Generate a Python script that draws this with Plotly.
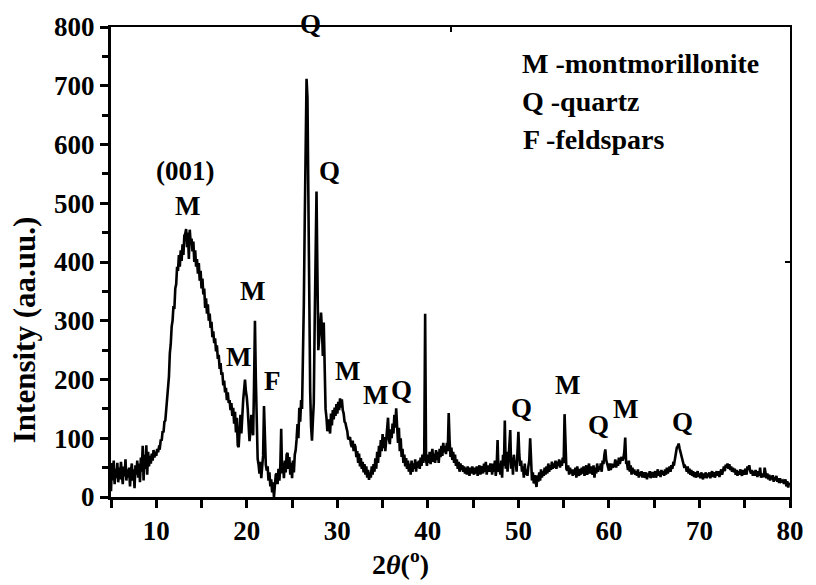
import plotly.graph_objects as go

# XRD pattern: 2theta from 5 to 80 deg, sampled every 0.1 deg (rows = one degree each)
two_theta_start = 5.0
two_theta_step = 0.1
intensity_rows = [
    [10, 58, 28, 62, 22, 48, 32, 58, 25, 50],          # 5.x
    [30, 60, 38, 22, 52, 35, 64, 28, 47, 33],          # 6.x
    [50, 18, 44, 57, 28, 47, 15, 54, 38, 62],          # 7.x
    [33, 57, 25, 67, 43, 87, 28, 72, 48, 88],          # 8.x
    [38, 77, 52, 70, 57, 74, 62, 80, 67, 77],          # 9.x
    [70, 82, 76, 85, 84, 98, 96, 112, 110, 128],       # 10.x
    [130, 150, 155, 190, 205, 245, 260, 290, 300, 325],  # 11.x
    [320, 355, 362, 392, 385, 412, 392, 420, 402, 430],  # 12.x
    [412, 445, 448, 456, 425, 450, 405, 455, 432, 440],  # 13.x
    [418, 435, 400, 420, 392, 405, 380, 398, 368, 385],  # 14.x
    [355, 372, 345, 355, 322, 338, 312, 328, 300, 312],  # 15.x
    [288, 298, 272, 282, 262, 270, 248, 258, 235, 242],  # 16.x
    [218, 228, 208, 212, 190, 198, 178, 186, 165, 178],  # 17.x
    [160, 165, 148, 160, 138, 152, 125, 145, 110, 135],  # 18.x
    [88, 85, 125, 140, 108, 152, 165, 182, 200, 180],    # 19.x
    [170, 150, 130, 95, 112, 140, 118, 105, 190, 300],   # 20.x
    [200, 90, 65, 55, 40, 60, 32, 52, 70, 155],          # 21.x
    [100, 55, 45, 52, 28, 42, 18, 30, 8, 25],            # 22.x
    [0, 15, 38, 40, 22, 48, 28, 52, 116, 40],            # 23.x
    [58, 32, 62, 42, 72, 75, 48, 68, 38, 58],            # 24.x
    [32, 62, 42, 72, 80, 98, 124, 100, 152, 128],        # 25.x
    [165, 150, 230, 330, 470, 600, 712, 680, 520, 300],  # 26.x
    [180, 120, 96, 130, 160, 300, 440, 520, 380, 250],   # 27.x
    [270, 300, 314, 285, 240, 297, 200, 150, 135, 112],  # 28.x
    [122, 132, 108, 142, 122, 148, 132, 152, 138, 158],  # 29.x
    [142, 162, 148, 168, 152, 166, 148, 142, 128, 126],  # 30.x
    [118, 112, 98, 100, 102, 90, 85, 96, 78, 90],        # 31.x
    [85, 68, 78, 58, 74, 52, 66, 48, 60, 42],            # 32.x
    [56, 38, 52, 33, 46, 29, 42, 33, 52, 38],            # 33.x
    [56, 43, 66, 48, 77, 58, 87, 68, 97, 78],            # 34.x
    [107, 83, 102, 78, 97, 110, 135, 98, 90, 115],       # 35.x
    [100, 125, 108, 140, 118, 151, 128, 92, 118, 78],    # 36.x
    [100, 68, 82, 58, 72, 52, 66, 48, 62, 43],           # 37.x
    [57, 38, 62, 43, 57, 48, 64, 43, 60, 50],            # 38.x
    [62, 48, 67, 53, 72, 58, 77, 312, 63, 53],           # 39.x
    [72, 58, 77, 56, 70, 82, 60, 74, 58, 80],            # 40.x
    [63, 77, 58, 82, 68, 87, 70, 92, 76, 87],            # 41.x
    [73, 92, 78, 143, 97, 68, 84, 63, 77, 58],           # 42.x
    [72, 53, 64, 48, 60, 43, 57, 46, 54, 43],            # 43.x
    [52, 40, 50, 38, 52, 43, 36, 50, 40, 52],            # 44.x
    [43, 38, 50, 40, 52, 36, 47, 54, 38, 50],            # 45.x
    [52, 40, 57, 43, 60, 38, 54, 46, 43, 57],            # 46.x
    [52, 38, 57, 43, 62, 36, 52, 97, 43, 57],            # 47.x
    [38, 62, 33, 72, 53, 130, 48, 77, 43, 62],           # 48.x
    [82, 114, 48, 67, 38, 72, 53, 62, 43, 77],           # 49.x
    [111, 72, 53, 62, 43, 52, 33, 57, 38, 47],           # 50.x
    [36, 52, 62, 100, 43, 28, 42, 23, 37, 28],           # 51.x
    [17, 37, 26, 42, 28, 47, 33, 44, 36, 50],            # 52.x
    [38, 52, 40, 57, 43, 54, 46, 60, 48, 57],            # 53.x
    [50, 62, 48, 60, 53, 64, 50, 62, 53, 67],            # 54.x
    [58, 141, 62, 48, 45, 54, 38, 50, 40, 47],           # 55.x
    [36, 47, 38, 50, 33, 52, 40, 36, 48, 38],            # 56.x
    [50, 40, 52, 36, 47, 54, 38, 50, 57, 40],            # 57.x
    [52, 43, 38, 54, 33, 50, 40, 57, 43, 52],            # 58.x
    [46, 57, 43, 62, 56, 72, 81, 63, 57, 48],            # 59.x
    [45, 57, 46, 54, 56, 52, 53, 64, 50, 62],            # 60.x
    [53, 67, 56, 64, 68, 62, 66, 77, 101, 58],           # 61.x
    [57, 46, 62, 43, 54, 38, 50, 40, 47, 38],            # 62.x
    [44, 36, 47, 33, 42, 36, 44, 33, 42, 36],            # 63.x
    [33, 42, 30, 40, 34, 44, 32, 40, 42, 33],            # 64.x
    [40, 44, 33, 42, 47, 36, 44, 34, 46, 38],            # 65.x
    [44, 36, 47, 38, 50, 40, 48, 52, 43, 54],            # 66.x
    [48, 57, 56, 67, 70, 84, 86, 91, 83, 77],            # 67.x
    [68, 64, 56, 52, 53, 50, 43, 52, 40, 48],            # 68.x
    [38, 46, 36, 44, 34, 42, 33, 40, 44, 34],            # 69.x
    [40, 32, 42, 34, 30, 40, 33, 42, 32, 40],            # 70.x
    [34, 42, 32, 40, 44, 34, 42, 33, 40, 44],            # 71.x
    [36, 44, 34, 42, 47, 38, 48, 52, 44, 55],            # 72.x
    [50, 57, 48, 56, 46, 52, 43, 50, 42, 48],            # 73.x
    [38, 46, 36, 44, 38, 47, 40, 36, 46, 38],            # 74.x
    [44, 48, 38, 52, 46, 54, 44, 40, 46, 36],            # 75.x
    [44, 36, 46, 38, 34, 44, 36, 50, 33, 40],            # 76.x
    [38, 34, 50, 36, 32, 40, 30, 38, 28, 36],            # 77.x
    [30, 37, 26, 34, 28, 36, 26, 32, 24, 32],            # 78.x
    [26, 27, 28, 24, 24, 30, 18, 27, 16, 24],            # 79.x
    [20],                                                # 80.0
]

intensity = [v for row in intensity_rows for v in row]
two_theta = [round(two_theta_start + i * two_theta_step, 1) for i in range(len(intensity))]

# Peak labels: (text, 2theta, intensity position, vertical pixel shift)
peak_labels = [
    ("(001)", 13.2, 555, 0),
    ("M", 13.4, 496, 0),
    ("Q", 27.0, 800, 3),
    ("Q", 29.1, 555, 0),
    ("M", 20.6, 350, 0),
    ("M", 19.1, 239, 0),
    ("F", 22.8, 197, 0),
    ("M", 31.1, 214, 0),
    ("M", 34.2, 174, 0),
    ("Q", 37.1, 182, 0),
    ("Q", 50.3, 152, 0),
    ("M", 55.4, 191, 0),
    ("Q", 58.9, 122, 0),
    ("M", 61.8, 149, 0),
    ("Q", 68.1, 128, 0),
]

legend_lines = [
    ("M -montmorillonite", 50.2, 738),
    ("Q -quartz", 50.2, 673),
    ("F -feldspars", 50.3, 609),
]

x_ticks = [10, 20, 30, 40, 50, 60, 70, 80]
y_ticks = [0, 100, 200, 300, 400, 500, 600, 700, 800]

FONT = "Liberation Serif"
TXT = 27

fig = go.Figure()
fig.add_trace(go.Scatter(
    x=two_theta, y=intensity, mode="lines",
    line=dict(color="black", width=2.6),
    showlegend=False, hoverinfo="skip",
))

annotations = []
for text, xv, yv, shift in peak_labels:
    annotations.append(dict(x=xv, y=yv, xref="x", yref="y", text="<b>%s</b>" % text,
                            showarrow=False, font=dict(family=FONT, size=TXT, color="black"),
                            xanchor="center", yanchor="middle", yshift=shift))
for text, xv, yv in legend_lines:
    annotations.append(dict(x=xv, y=yv, xref="x", yref="y", text="<b>%s</b>" % text,
                            showarrow=False, font=dict(family=FONT, size=28, color="black"),
                            xanchor="left", yanchor="middle"))
annotations.append(dict(x=-0.128, y=0.355, xref="paper", yref="paper",
                        text="<b>Intensity (aa.uu.)</b>", textangle=-90, showarrow=False,
                        font=dict(family=FONT, size=31, color="black"),
                        xanchor="center", yanchor="middle"))
annotations.append(dict(x=0.427, y=-0.14, xref="paper", yref="paper",
                        text="<b>2<i>θ</i>(<sup>o</sup>)</b>", showarrow=False,
                        font=dict(family=FONT, size=28, color="black"),
                        xanchor="center", yanchor="middle"))

fig.update_layout(
    width=816, height=585,
    margin=dict(l=111, r=17, t=20, b=88),
    paper_bgcolor="white", plot_bgcolor="white",
    font=dict(family=FONT, color="black"),
    annotations=annotations,
    xaxis=dict(
        range=[5, 80], tickvals=x_ticks, ticktext=["<b>%d</b>" % v for v in x_ticks],
        ticks="outside", ticklen=8, tickwidth=2.5, tickcolor="black",
        showline=True, linewidth=3, linecolor="black", mirror=False,
        showgrid=False, zeroline=False,
        tickfont=dict(family=FONT, size=TXT, color="black"),
        minor=dict(tickvals=[5, 15, 25, 35, 45, 55, 65, 75], ticks="outside",
                   ticklen=8, tickwidth=2.5, tickcolor="black", showgrid=False),
    ),
    yaxis=dict(
        range=[0, 800], tickvals=y_ticks, ticktext=["<b>%d</b>" % v for v in y_ticks],
        ticks="outside", ticklen=8, tickwidth=2.5, tickcolor="black",
        showline=True, linewidth=3, linecolor="black", mirror=False,
        showgrid=False, zeroline=False,
        tickfont=dict(family=FONT, size=TXT, color="black"),
        minor=dict(tickvals=[50, 150, 250, 350, 450, 550, 650, 750], ticks="outside",
                   ticklen=6, tickwidth=2.5, tickcolor="black", showgrid=False),
    ),
    xaxis2=dict(
        overlaying="x", side="top", range=[5, 80], tickvals=[42.5], showticklabels=False,
        ticks="inside", ticklen=5, tickwidth=1.5, tickcolor="black",
        showline=True, linewidth=2, linecolor="black", showgrid=False, zeroline=False,
    ),
    yaxis2=dict(
        overlaying="y", side="right", range=[0, 800], tickvals=[400], showticklabels=False,
        ticks="inside", ticklen=5, tickwidth=1.5, tickcolor="black",
        showline=True, linewidth=2, linecolor="black", showgrid=False, zeroline=False,
    ),
)
# invisible helper trace to activate the mirror axes
fig.add_trace(go.Scatter(x=[5], y=[0], xaxis="x2", yaxis="y2", mode="markers",
                         marker=dict(opacity=0), showlegend=False, hoverinfo="skip"))

fig.write_html("out.html")
